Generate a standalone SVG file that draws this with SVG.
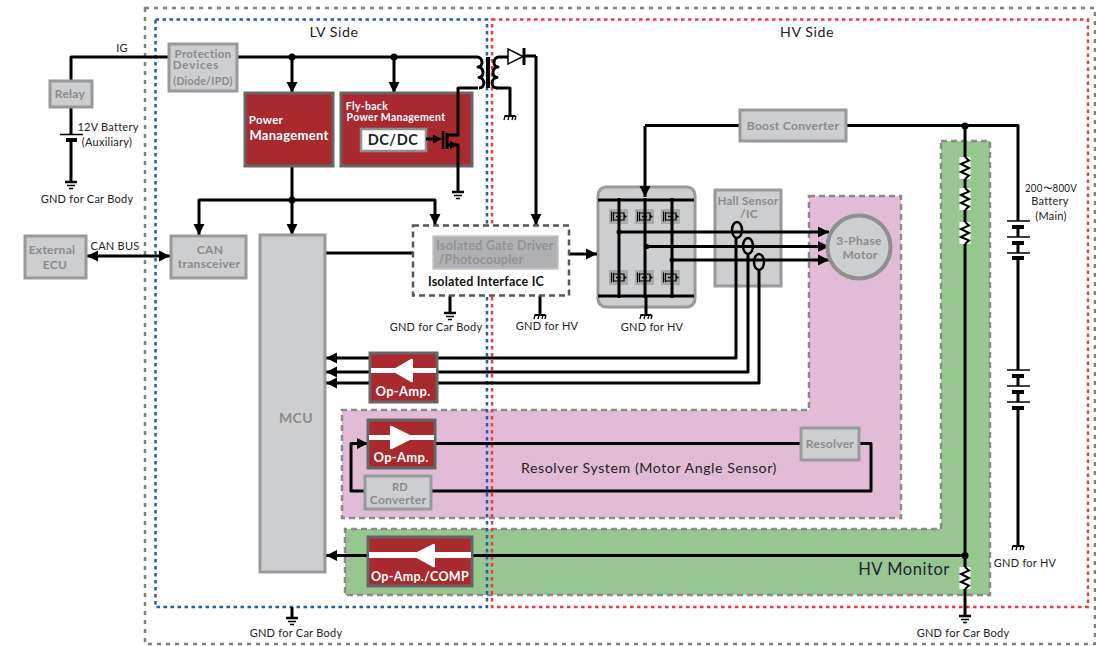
<svg xmlns="http://www.w3.org/2000/svg" width="1096" height="646" viewBox="0 0 1096 646">
<style>
text{font-family:"Lato","Liberation Sans",sans-serif;fill:#222;text-anchor:middle}
.s{font-size:11px;letter-spacing:.25px}
.l{font-size:14.200px;letter-spacing:.55px}
.g{font-size:12px;font-weight:700;fill:#8a8b8d;letter-spacing:.3px}
.w{font-size:13px;font-weight:700;fill:#fff;letter-spacing:.3px}
.box{fill:#cdced0;stroke:#98999b;stroke-width:3}
.red{fill:#a8292e;stroke:#666;stroke-width:3}
.wire{fill:none;stroke:#000;stroke-width:3;stroke-linejoin:round}
.a{marker-end:url(#arr)}
.dash{stroke:#808080;stroke-width:2.500;stroke-dasharray:4 5;fill:none}
</style>
<defs>
<marker id="arr" markerUnits="userSpaceOnUse" markerWidth="12" markerHeight="12" refX="11" refY="6" orient="auto"><path d="M0,.5L11,6L0,11.500z" fill="#000"/></marker>
<marker id="arrs" markerUnits="userSpaceOnUse" markerWidth="12" markerHeight="12" refX="11" refY="6" orient="auto-start-reverse"><path d="M0,.5L11,6L0,11.500z" fill="#000"/></marker>
<g id="gnd"><path d="M-6,0H6" stroke="#000" stroke-width="2.500"/><path d="M-4,3.500H4" stroke="#000" stroke-width="1.500"/><path d="M-2,6.500H2" stroke="#000" stroke-width="1.500"/></g>
<g id="gndhv"><path d="M-5.500,0H5.500" stroke="#000" stroke-width="2"/><path d="M-5,0L-6,4M-1,0L-2,4M3,0L2,4M6,0L5,4" stroke="#000" stroke-width="1.300"/></g>
<g id="res"><rect x="-5.500" y="0" width="11" height="22" fill="#fff"/><path d="M0,0L4,3.500L-4,7L4,11L-4,15L4,18.500L0,22" fill="none" stroke="#000" stroke-width="2"/></g>
<g id="fet"><rect x="0" y="0" width="19" height="15" fill="#a9aaac"/><path d="M2.500,2.500V12.500M4.500,3V12M4.500,4H15V11H4.500" stroke="#000" stroke-width="1.200" fill="none"/><path d="M15,5.500L18,7.500L15,9.500z" fill="#000"/><path d="M7,7.500H12" stroke="#000" stroke-width="1.500"/></g>
</defs>

<g id="regions">
<path d="M809,196H901V518H342V410H809z" fill="#e2bcd6" stroke="#8a8a8a" stroke-width="2.500" stroke-dasharray="6 4"/>
<path d="M941,141H990V595H345V529H941z" fill="#97c690" stroke="#8a8a8a" stroke-width="2.500" stroke-dasharray="6 4"/>
<rect x="145" y="8" width="950" height="636" class="dash"/>
<rect x="155.500" y="19.500" width="331.500" height="587.500" fill="none" stroke="#1f5fae" stroke-width="2.500" stroke-dasharray="3.500 3.500"/>
<rect x="492" y="19.500" width="596" height="587.500" fill="none" stroke="#ee3a43" stroke-width="2.500" stroke-dasharray="3.500 3.500"/>
</g>

<g id="inverter"><rect class="box" x="598" y="187" width="97" height="120" rx="8"/>
<use href="#fet" x="609" y="209"/><use href="#fet" x="635" y="209"/><use href="#fet" x="661" y="209"/>
<use href="#fet" x="609" y="270"/><use href="#fet" x="635" y="270"/><use href="#fet" x="661" y="270"/></g>
<g id="hall"><rect class="box" x="715" y="190" width="66" height="96"/><text class="g" x="748" y="205" style="font-size:11.500px">Hall Sensor</text><text class="g" x="749" y="218">/IC</text></g>

<g id="connectors">
<path class="wire" d="M168,57H71V81M71,107V134M71,140V182"/>
<path class="wire" d="M236,57H468"/>
<path class="wire a" d="M292,57V93"/>
<path class="wire a" d="M394,57V93"/>
<path class="wire a" d="M292,166V235"/>
<path class="wire a" d="M292,200H199V235"/>
<path class="wire a" d="M292,200H435V225"/>
<path class="wire" d="M325,253H413"/>
<path class="wire a" d="M569,254H597"/>
<path class="wire" d="M468,57H477"/>
<path class="wire" d="M496,88H510V115M499,57H508M525,56H536"/>
<path class="wire a" d="M536,56V225"/>
<path d="M87,256H170" class="wire" marker-start="url(#arrs)" marker-end="url(#arrs)"/>
<path class="wire" d="M450,295V313M540,295V315"/>
<path class="wire a" d="M645,126V197"/>
<path class="wire" d="M645,125.500H740M846,125.500H1018V221M1018,227V237M1018,243V253M1018,259V370M1018,376V386M1018,392V402M1018,408V546"/>
<path class="wire" d="M965,125.500V616M292,607V618"/>
<path class="wire" d="M598,200H694M598,296H694M619,198V298M645,198V298M672,198V298M646,296V315"/>
<path class="wire a" d="M619,232H829"/>
<path class="wire a" d="M647,246.500H829"/>
<path class="wire a" d="M672,260H829"/>
<path class="wire a" d="M736,238V358H326"/>
<path class="wire a" d="M748,254V372H326"/>
<path class="wire a" d="M759,270V383H326"/>
<path class="wire" d="M435,443.500H801M859,443.500H871V491H431"/>
<path class="wire a" d="M365,491H351V443.500H368"/>
<path class="wire a" d="M965,555.500H326"/>
<g fill="none" stroke="#000" stroke-width="2.500"><ellipse cx="737" cy="230" rx="5" ry="8"/><ellipse cx="748" cy="246" rx="5" ry="8"/><ellipse cx="759" cy="262" rx="5" ry="8"/></g>
<g fill="#000"><circle cx="292" cy="57" r="3.500"/><circle cx="394" cy="57" r="3.500"/><circle cx="292" cy="200" r="3.500"/><circle cx="965" cy="126" r="3.500"/><circle cx="965" cy="555.500" r="3.500"/><circle cx="619" cy="232" r="2.500"/><circle cx="647" cy="246.500" r="2.500"/><circle cx="672" cy="260" r="2.500"/></g>
<use href="#gnd" x="71" y="182"/>
<use href="#gnd" x="458" y="192"/>
<use href="#gnd" x="450" y="313"/>
<use href="#gnd" x="292" y="618"/>
<use href="#gnd" x="965" y="616"/>
<use href="#gndhv" x="510" y="116"/>
<use href="#gndhv" x="540" y="315"/>
<use href="#gndhv" x="646" y="315"/>
<use href="#gndhv" x="1018" y="546"/>
<use href="#res" x="965" y="157"/>
<use href="#res" x="965" y="188"/>
<use href="#res" x="965" y="222"/>
<use href="#res" x="965" y="567"/>
</g>

<g id="batteries">
<path d="M60,134.500H83M1007,221H1030M1007,237H1030M1007,253H1030M1007,370H1030M1007,386H1030M1007,402H1030" stroke="#000" stroke-width="1.500"/>
<path d="M66,140H77M1012,227H1024M1012,243H1024M1012,258H1024M1012,376H1024M1012,392H1024M1012,408H1024" stroke="#000" stroke-width="4"/>
</g>

<g id="protection"><rect class="box" x="169" y="44" width="68" height="47"/><text class="g" x="203" y="58" style="font-size:11.500px">Protection</text><text class="g" x="196" y="69" style="font-size:11.500px;letter-spacing:.9px">Devices</text><text class="g" x="203" y="85" style="font-size:10.500px">(Diode/IPD)</text></g>
<g id="relay"><rect class="box" x="50" y="81" width="42" height="26"/><text class="g" x="70" y="98">Relay</text></g>
<g id="external-ecu"><rect class="box" x="25" y="236" width="61" height="42"/><text class="g" x="52" y="254">External</text><text class="g" x="55" y="269">ECU</text></g>
<g id="can"><rect class="box" x="171" y="236" width="75" height="42"/><text class="g" x="210" y="254">CAN</text><text class="g" x="209" y="268">transceiver</text></g>
<g id="mcu"><rect class="box" x="260" y="235" width="65" height="337"/><text class="g" x="296" y="423" style="font-size:14px">MCU</text></g>
<g id="power"><rect class="red" x="245" y="93" width="88" height="73"/><text class="w" x="266" y="124" style="font-size:11.500px">Power</text><text class="w" x="289" y="140">Management</text></g>
<g id="flyback"><rect class="red" x="341" y="93" width="131" height="73"/><text class="w" x="367" y="110" style="font-size:10.500px">Fly-back</text><text class="w" x="396" y="121" style="font-size:10.500px">Power Management</text><rect x="361" y="129" width="65" height="22" fill="#fff" stroke="#8e8e8e" stroke-width="2.500"/><text x="393" y="145" style="font-size:14.500px;font-weight:700;letter-spacing:.5px">DC/DC</text>
<path class="wire" d="M426,139H433"/><path d="M433,134.500L442,139L433,143.500z" fill="#000"/><path d="M443,131V149" stroke="#000" stroke-width="2.500"/><path d="M447,133V149" stroke="#000" stroke-width="3"/>
<path class="wire" d="M478,88H458V135H447M447,145H458V192"/><path d="M450,141L458,145L450,149z" fill="#000"/></g>
<g id="transformer"><path d="M477,57c6,0,7,10,1,10c6,0,7,10,1,10.500c6,0,7,10.500,0,10.500" class="wire"/><path d="M499,57c-6,0-7,10-1,10c-6,0-7,10-1,10.500c-6,0-7,10.500,0,10.500" class="wire"/><path d="M488,57V88" stroke="#000" stroke-width="4"/></g>
<g id="diode"><path d="M508,49L523,56.500L508,64z" fill="#fff" stroke="#000" stroke-width="1.500"/><path d="M524,48V65" stroke="#000" stroke-width="3"/></g>
<g id="isolated"><rect x="413" y="225.500" width="156" height="70" fill="#fff" stroke="#555" stroke-width="2.500" stroke-dasharray="6 4"/><rect x="433" y="236" width="125" height="33" fill="#b0b1b3" stroke="#c4c5c7" stroke-width="1.500"/><text class="g" x="495" y="250" style="font-size:12.500px;fill:#919294">Isolated Gate Driver</text><text class="g" x="481" y="264" style="font-size:12.500px;fill:#919294">/Photocoupler</text><text x="486" y="286" style="font-size:12.500px;font-weight:700;letter-spacing:.2px;fill:#111">Isolated Interface IC</text></g>
<g id="boost"><rect class="box" x="740" y="110" width="106" height="31"/><text class="g" x="793" y="130">Boost Converter</text></g>
<g id="resolver"><rect class="box" x="801" y="428" width="58" height="32"/><text class="g" x="830" y="448">Resolver</text></g>
<g id="rd"><rect class="box" x="365" y="476" width="66" height="33"/><text class="g" x="400" y="491" style="font-size:11px">RD</text><text class="g" x="398" y="504">Converter</text></g>
<g id="motor"><circle cx="859" cy="247" r="31.500" fill="#cdced0" stroke="#8f8f8f" stroke-width="4"/><text class="g" x="859" y="245">3-Phase</text><text class="g" x="860" y="259">Motor</text></g>

<g id="opamp1"><rect class="red" x="370" y="353" width="67" height="49"/><path d="M371,368H436V373H371z" fill="#fff"/><path d="M391,370.500L411,359Q413,358,413,360V381Q413,383,411,382z" fill="#fff"/><text class="w" x="403" y="396">Op-Amp.</text></g>
<g id="opamp2"><rect class="red" x="368" y="420" width="67" height="48"/><path d="M369,435H434V440H369z" fill="#fff"/><path d="M415,437.500L392,426Q390,425,390,427V448Q390,450,392,449z" fill="#fff"/><text class="w" x="401" y="462">Op-Amp.</text></g>
<g id="opamp3"><rect class="red" x="368" y="537" width="104" height="49"/><path d="M369,552H471V558H369z" fill="#fff"/><path d="M411,555L433,544Q435,543,435,545V566Q435,568,433,567z" fill="#fff"/><text class="w" x="420" y="581" style="font-size:12.500px">Op-Amp./COMP</text></g>

<g id="labels">
<text class="s" x="122" y="52">IG</text>
<text class="s" x="108" y="131">12V Battery</text>
<text class="s" x="107" y="146">(Auxiliary)</text>
<text class="s" x="87" y="203">GND for Car Body</text>
<text class="s" x="115" y="250">CAN BUS</text>
<text class="l" x="334" y="37">LV Side</text>
<text class="l" x="807" y="37">HV Side</text>
<text class="s" x="436" y="331">GND for Car Body</text>
<text class="s" x="547" y="330">GND for HV</text>
<text class="s" x="652" y="331">GND for HV</text>
<text class="s" x="1051" y="192" textLength="52" lengthAdjust="spacingAndGlyphs">200〜800V</text>
<text class="s" x="1050" y="205">Battery</text>
<text class="s" x="1051" y="220">(Main)</text>
<text class="s" x="1025" y="567">GND for HV</text>
<text class="s" x="296" y="637">GND for Car Body</text>
<text class="s" x="963" y="637">GND for Car Body</text>
<text class="l" x="649" y="473">Resolver System (Motor Angle Sensor)</text>
<text class="l" x="904" y="575" style="font-size:16.500px;fill:#223">HV Monitor</text>
</g>
</svg>
